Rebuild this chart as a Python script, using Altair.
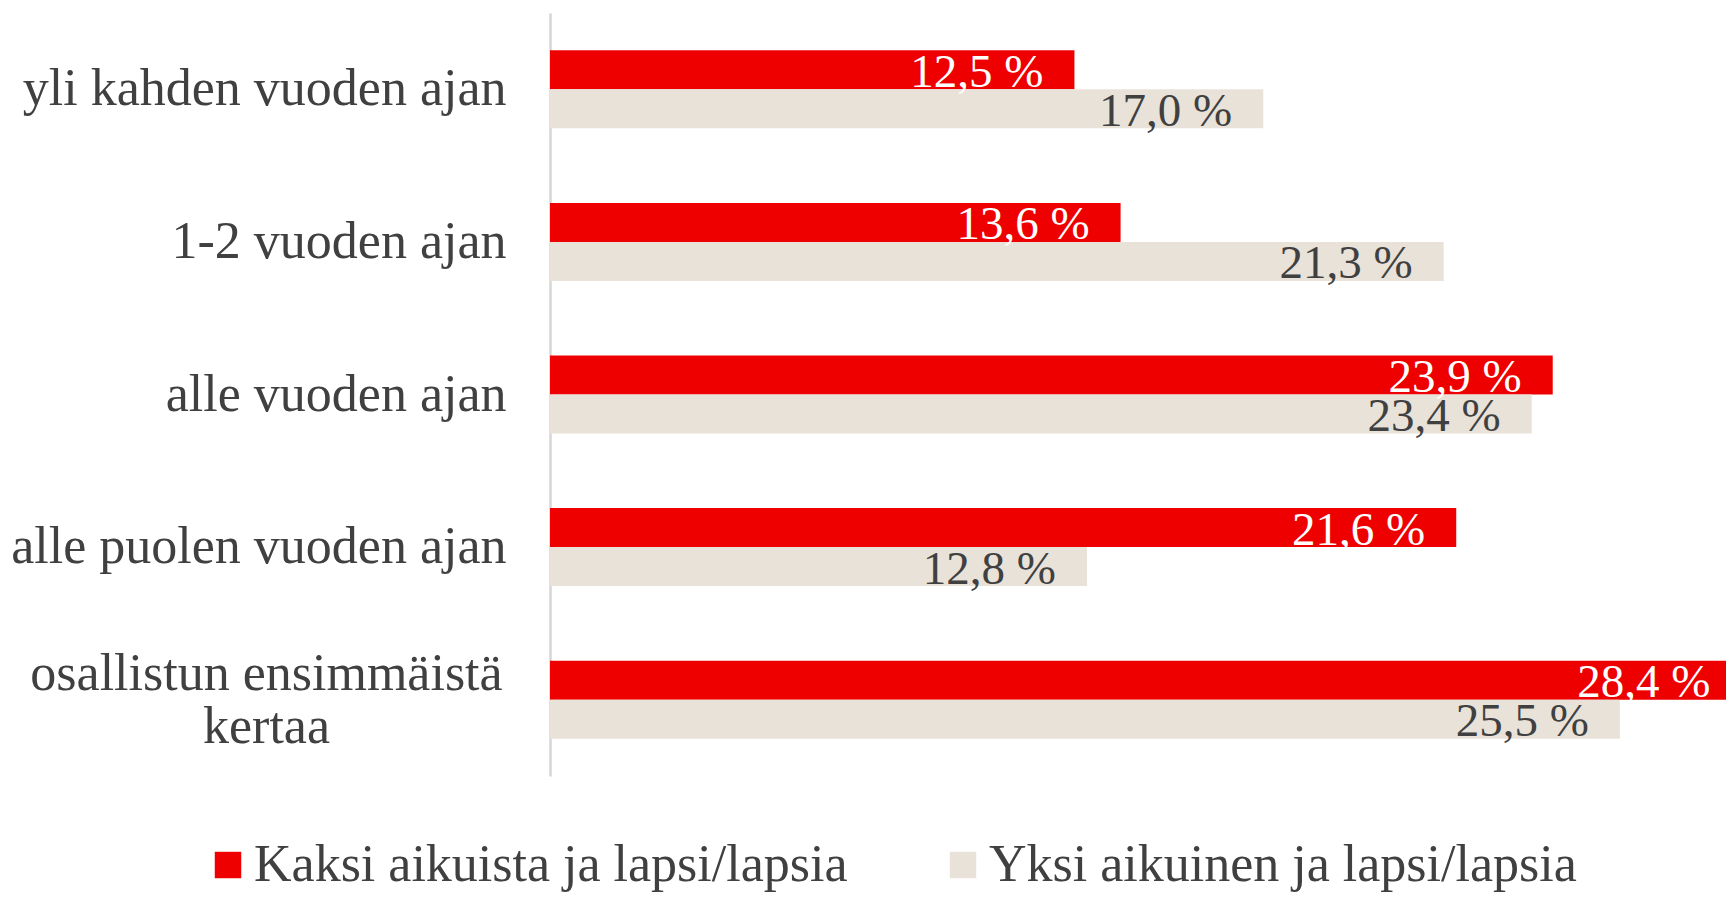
import altair as alt
import pandas as pd

categories = ["yli kahden vuoden ajan", "1-2 vuoden ajan", "alle vuoden ajan",
              "alle puolen vuoden ajan", "osallistun ensimmäistä kertaa"]
series = ["Kaksi aikuista ja lapsi/lapsia", "Yksi aikuinen ja lapsi/lapsia"]
kaksi = [12.5, 13.6, 23.9, 21.6, 28.4]
yksi = [17.0, 21.3, 23.4, 12.8, 25.5]

RED = "#EE0000"
BEIGE = "#E8E2D9"
TXT = "#404040"
FONT = "Liberation Serif"

rows = []
for c, a, b in zip(categories, kaksi, yksi):
    for s, v in ((series[0], a), (series[1], b)):
        rows.append({"category": c, "series": s, "value": v,
                     "label": f"{v:.1f}".replace(".", ",") + " %"})
df = pd.DataFrame(rows)

last = categories[4]
test = f"datum.value == '{last}'"
label_expr = f"{test} ? ['osallistun ensimmäistä', 'kertaa'] : datum.value"

base = alt.Chart(df).encode(
    y=alt.Y("category:N", sort=categories, title=None,
            scale=alt.Scale(paddingInner=0.489, paddingOuter=0.2445),
            axis=alt.Axis(domainColor="#D6D6D6", domainWidth=2.5, ticks=False,
                          labelFont=FONT, labelFontSize=52, labelColor=TXT,
                          labelLimit=1000, labelLineHeight=53,
                          labelExpr=label_expr,
                          labelAlign={"condition": {"test": test, "value": "center"}, "value": "right"},
                          labelPadding={"condition": {"test": test, "value": 284}, "value": 44},
                          labelOffset={"condition": {"test": test, "value": -26}, "value": 0})),
    yOffset=alt.YOffset("series:N", sort=series,
                        scale=alt.Scale(paddingInner=0, paddingOuter=0)),
)

xscale = alt.Scale(domain=[0, 28.03], nice=False, zero=True)

bars = base.mark_bar(clip=True).encode(
    x=alt.X("value:Q", scale=xscale, axis=None),
    color=alt.Color("series:N", sort=series,
                    scale=alt.Scale(domain=series, range=[RED, BEIGE]),
                    legend=alt.Legend(orient="none", legendX=-348, legendY=826,
                                      direction="horizontal", title=None,
                                      symbolType="square", symbolSize=700,
                                      symbolStrokeWidth=0, labelFont=FONT,
                                      labelFontSize=52, labelColor=TXT,
                                      labelLimit=1000, labelOffset=0,
                                      columnPadding=89, padding=0)),
)

text = base.mark_text(align="right", baseline="middle", dx=-31, dy=3,
                      font=FONT, fontSize=47).encode(
    x=alt.X("value:Q", scale=xscale, axis=None),
    text="label:N",
    color=alt.condition(alt.datum.series == series[0], alt.value("white"), alt.value(TXT)),
)

chart = (bars + text).properties(
    width=1176, height=763,
    autosize=alt.AutoSizeParams(type="none"),
    padding={"left": 542, "top": 5, "right": 0, "bottom": 118},
).configure_view(stroke=None)

chart.save("out.html", embed_options={"renderer": "svg", "actions": False})
